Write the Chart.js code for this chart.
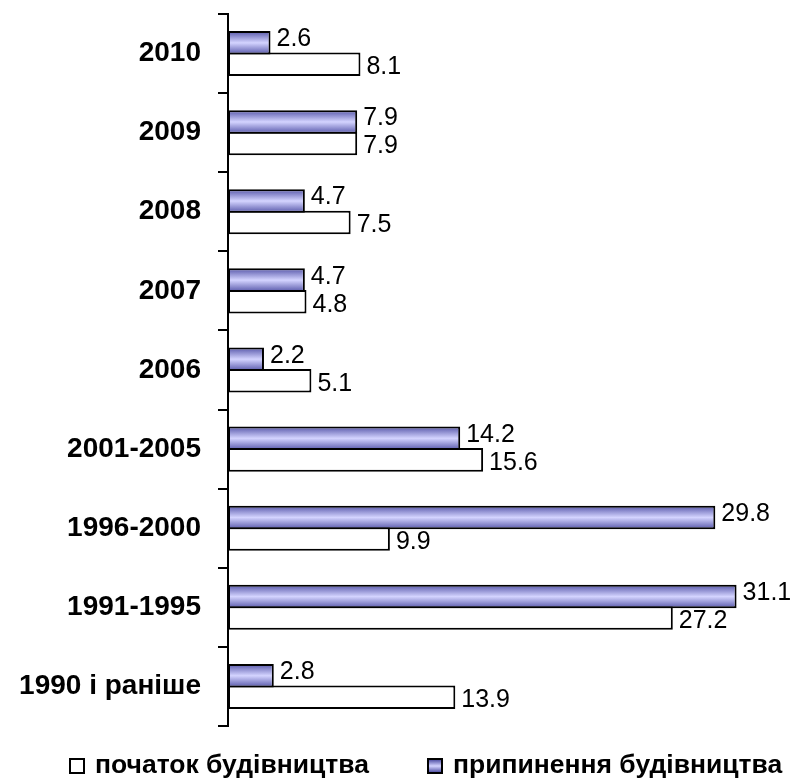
<!DOCTYPE html>
<html>
<head>
<meta charset="utf-8">
<script src="https://cdn.jsdelivr.net/npm/chart.js@4"></script>
<style>
  body { margin: 0; background: #fff; }
  #wrap { position: relative; width: 798px; height: 778px; }
  #legend { position: absolute; left: 0; top: 0; width: 798px; height: 778px; pointer-events: none;
            font: bold 26.5px "Liberation Sans", Arial, sans-serif; color: #000; }
  .item { position: absolute; top: 749px; white-space: nowrap; line-height: 30px; }
  .box { display: inline-block; width: 12px; height: 12px; border: 2px solid #000; vertical-align: -1px; margin-right: 10px; }
</style>
</head>
<body>
<div id="wrap">
  <canvas id="barChart" width="798" height="740"></canvas>
  <div id="legend">
    <div class="item" style="left:69px"><span class="box" style="background:#fff"></span>початок будівництва</div>
    <div class="item" style="left:427px"><span class="box" style="background:linear-gradient(#5555a8,#d4d4ff,#5555a8)"></span>припинення будівництва</div>
  </div>
</div>
<script>
var periods = ['2010', '2009', '2008', '2007', '2006', '2001-2005', '1996-2000', '1991-1995', '1990 і раніше'];
var stopped = [2.6, 7.9, 4.7, 4.7, 2.2, 14.2, 29.8, 31.1, 2.8];   // припинення будівництва
var started = [8.1, 7.9, 7.5, 4.8, 5.1, 15.6, 9.9, 27.2, 13.9];  // початок будівництва

var fontFamily = '"Liberation Sans", Arial, sans-serif';

// purple bars get a vertical gradient once their size is known
var gradientBars = {
    id: 'gradientBars',
    beforeDatasetsDraw: function(chart) {
        var ctx = chart.ctx;
        chart.getDatasetMeta(0).data.forEach(function(bar) {
            var top = bar.y - bar.height / 2;
            var g = ctx.createLinearGradient(0, top, 0, top + bar.height);
            g.addColorStop(0, '#5555a8');
            g.addColorStop(0.5, '#d4d4ff');
            g.addColorStop(1, '#5555a8');
            bar.options = Object.assign({}, bar.options, { backgroundColor: g });
        });
    }
};

var valueLabels = {
    id: 'valueLabels',
    afterDatasetsDraw: function(chart) {
        var ctx = chart.ctx;
        ctx.save();
        ctx.font = '25px ' + fontFamily;
        ctx.fillStyle = '#000';
        ctx.textAlign = 'left';
        ctx.textBaseline = 'middle';
        chart.data.datasets.forEach(function(ds, i) {
            var shift = i === 0 ? -3.5 : 3;
            chart.getDatasetMeta(i).data.forEach(function(bar, j) {
                ctx.fillText(ds.data[j].toFixed(1), bar.x + 6, bar.y + shift);
            });
        });
        ctx.restore();
    }
};

var chart = new Chart(document.getElementById('barChart'), {
    type: 'bar',
    data: {
        labels: periods,
        datasets: [{
            label: 'припинення будівництва',
            data: stopped,
            backgroundColor: function() { return '#9999ff'; },
            borderColor: '#000',
            borderWidth: 2,
            borderSkipped: false
        }, {
            label: 'початок будівництва',
            data: started,
            backgroundColor: '#fff',
            borderColor: '#000',
            borderWidth: 2,
            borderSkipped: false
        }]
    },
    options: {
        indexAxis: 'y',
        responsive: false,
        animation: false,
        // bars overlap by one border width so the pair shares a single line
        categoryPercentage: 0.544,
        barPercentage: 1.093,
        layout: { padding: { top: 14, right: 14, bottom: 14, left: 0 } },
        plugins: {
            legend: { display: false },
            tooltip: { enabled: false }
        },
        scales: {
            x: { display: false, min: 0, max: 34 },
            y: {
                offset: true,
                afterFit: function(scale) {
                    scale.width = 228;
                    scale.paddingTop = 0;
                    scale.paddingBottom = 0;
                },
                grid: { offset: true, drawOnChartArea: false, drawTicks: true, tickLength: 10, color: '#000', lineWidth: 2 },
                border: { display: true, color: '#000', width: 2 },
                ticks: { color: '#000', padding: 17, font: { family: fontFamily, size: 28, weight: 'bold' } }
            }
        }
    },
    plugins: [gradientBars, valueLabels]
});
</script>
</body>
</html>
